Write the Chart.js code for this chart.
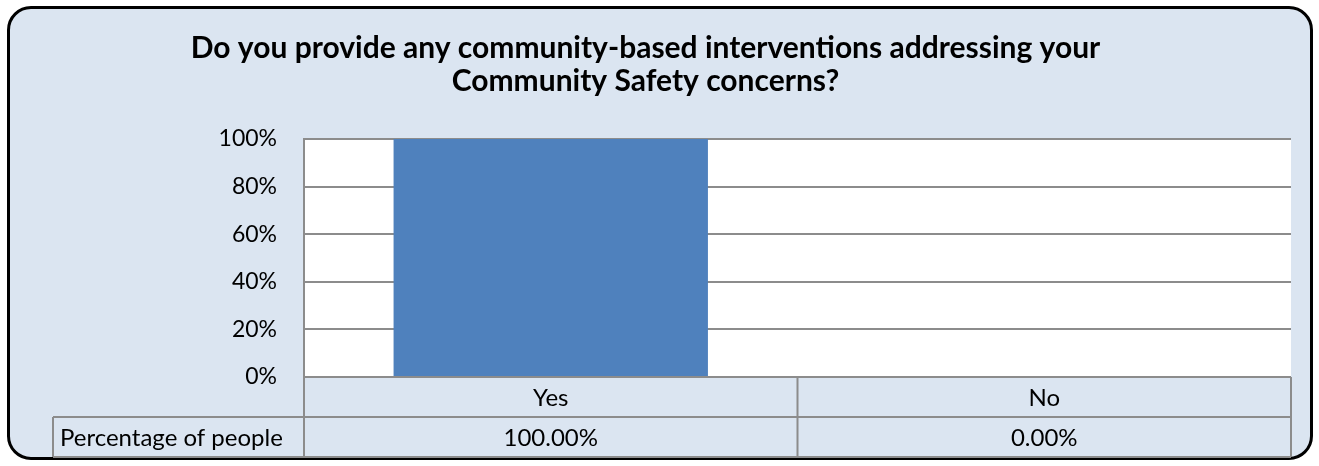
<!DOCTYPE html>
<html>
<head>
<meta charset="utf-8">
<script src="https://cdn.jsdelivr.net/npm/chart.js@4"></script>
<style>
  html, body { margin: 0; padding: 0; background: #fff; }
  .frame {
    position: absolute; left: 7px; top: 6px; width: 1300px; height: 448px;
    border: 3px solid #000; border-radius: 24px; background: #dbe5f1;
  }
  .wrap { position: absolute; left: 0; top: 0; width: 1319px; height: 466px; }
</style>
</head>
<body>
<div class="frame"></div>
<div class="wrap"><canvas id="chart" width="1319" height="466"></canvas></div>
<script>
  const titleLines = ["Do you provide any community-based interventions addressing your", "Community Safety concerns?"];
  const categories = ["Yes", "No"];
  const seriesName = "Percentage of people";
  const values = [1.0, 0.0];
  const yTicks = [0, 0.2, 0.4, 0.6, 0.8, 1.0];

  const FONT = "Lato, 'Open Sans', sans-serif";
  const LINE = "#8c8c8c";

  // white plot area
  const plotBg = {
    id: "plotBg",
    beforeDraw(chart) {
      const a = chart.chartArea;
      const ctx = chart.ctx;
      ctx.save();
      ctx.fillStyle = "#fff";
      ctx.fillRect(a.left, a.top, a.right - a.left, a.bottom - a.top);
      ctx.restore();
    }
  };

  // data table under the plot, laid out from the x scale
  const dataTable = {
    id: "dataTable",
    afterDraw(chart) {
      const ctx = chart.ctx;
      const x = chart.scales.x;
      const area = chart.chartArea;
      const rowH = 40;
      const top = area.bottom;
      const labelLeft = 53;
      const step = (area.right - area.left) / categories.length;

      ctx.save();
      ctx.strokeStyle = LINE;
      ctx.lineWidth = 2;
      ctx.beginPath();
      ctx.moveTo(area.left, top); ctx.lineTo(area.right, top);
      ctx.moveTo(labelLeft, top + rowH); ctx.lineTo(area.right, top + rowH);
      ctx.moveTo(labelLeft, top + 2 * rowH); ctx.lineTo(area.right, top + 2 * rowH);
      ctx.moveTo(labelLeft, top + rowH); ctx.lineTo(labelLeft, top + 2 * rowH);
      for (let i = 0; i <= categories.length; i++) {
        const vx = area.left + i * step;
        ctx.moveTo(vx, top); ctx.lineTo(vx, top + 2 * rowH);
      }
      ctx.stroke();

      ctx.fillStyle = "#000";
      ctx.font = "24px " + FONT;
      ctx.textBaseline = "middle";
      ctx.textAlign = "center";
      categories.forEach(function (c, i) {
        const cx = x.getPixelForValue(i);
        ctx.fillText(c, cx, top + rowH / 2 + 1);
        ctx.fillText((values[i] * 100).toFixed(2) + "%", cx, top + rowH * 1.5 + 1);
      });
      ctx.textAlign = "left";
      ctx.fillText(seriesName, labelLeft + 7, top + rowH * 1.5 + 1);
      ctx.restore();
    }
  };

  new Chart(document.getElementById("chart"), {
    type: "bar",
    data: {
      labels: categories,
      datasets: [{
        label: seriesName,
        data: values,
        backgroundColor: "#4f81bd",
        borderWidth: 0,
        barPercentage: 0.637,
        categoryPercentage: 1
      }]
    },
    options: {
      responsive: false,
      animation: false,
      layout: { padding: { top: 0, right: 28, bottom: 81, left: 0 } },
      plugins: {
        legend: { display: false },
        tooltip: { enabled: false },
        title: {
          display: true,
          text: titleLines,
          color: "#000",
          font: { family: FONT, size: 30, weight: "bold", lineHeight: 1.1 },
          padding: { top: 32, bottom: 41 }
        }
      },
      scales: {
        x: {
          ticks: { display: false },
          grid: { display: false },
          border: { display: false }
        },
        y: {
          min: 0,
          max: 1,
          afterBuildTicks(scale) {
            scale.ticks = yTicks.map((v) => ({ value: v }));
          },
          afterFit(scale) { scale.width = 304; },
          ticks: {
            color: "#000",
            padding: 27,
            font: { family: FONT, size: 23 },
            callback: (v) => Math.round(v * 100) + "%"
          },
          grid: { color: LINE, lineWidth: 2, drawTicks: false },
          border: { color: LINE, width: 2 }
        }
      }
    },
    plugins: [plotBg, dataTable]
  });
</script>
</body>
</html>
